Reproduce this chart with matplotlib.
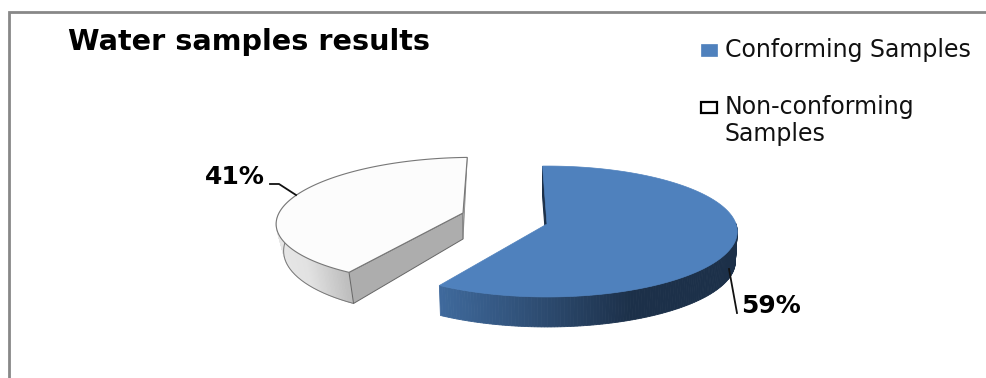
from matplotlib import pyplot as plt
from matplotlib.patches import Polygon, Rectangle
import numpy as np

categories = ["Conforming Samples", "Non-conforming\nSamples"]
shares = [59, 41]
share_labels = ["59%", "41%"]


def hex_rgb(c):
    return np.array([int(c[i:i + 2], 16) / 255 for i in (1, 3, 5)])


def project(t, cx, cy, radius, squash, shear=0.0, persp=0.1145):
    # t in degrees clockwise from the back of the disc
    t = np.radians(t)
    s = 1 / (1 + persp * np.cos(t))
    dy = -squash * np.cos(t) * s
    return cx + radius * np.sin(t) * s - shear * dy, cy + dy


def draw_wall(ax, x, y, low_x, low_y, idx, stops):
    # rim wall made of thin quads, coloured by horizontal position
    xmin, xmax = x[idx].min(), x[idx].max()
    pos = np.array([s[0] for s in stops])
    cols = np.array([hex_rgb(s[1]) for s in stops])
    for i in idx[:-1]:
        f = (x[i] - xmin) / (xmax - xmin)
        c = [np.interp(f, pos, cols[:, k]) for k in range(3)]
        quad = [(x[i], y[i]), (x[i + 1], y[i + 1]), (low_x[i + 1], low_y[i + 1]), (low_x[i], low_y[i])]
        ax.add_patch(Polygon(quad, closed=True, facecolor=c, edgecolor=c, linewidth=0.6, zorder=2))


fig = plt.figure(figsize=(9.86, 3.78), dpi=100)
ax = fig.add_axes([0, 0, 1, 1])
ax.set_xlim(0, 986)
ax.set_ylim(378, 0)
ax.axis("off")

# chart frame, top and left sides
ax.plot([9, 9, 986], [378, 12, 12], color="#888888", linewidth=2, solid_joinstyle="miter", zorder=1)

# non-conforming slice, pulled away to the left
cx, cy = 463, 213
t_end = -2.0
t = np.linspace(t_end - shares[1] * 3.6 + 360, t_end + 360, 240)
x, y = project(t, cx, cy, 184, 62, shear=0.18)
lx = x + (cx - x) * 0.04
ly = y + 26 + 5 * (y - cy) / 58
idx = np.where(np.cos(np.radians(t)) < 0.35)[0]
draw_wall(ax, x, y, lx, ly, idx, [(0, "#e6e6e6"), (0.4, "#e2e2e2"), (1, "#bcbcbc")])
ax.plot(lx[idx], ly[idx], color="#777777", linewidth=0.7, zorder=3)
cut = [(x[0], y[0]), (cx, cy), (cx, cy + 26), (lx[0], ly[0])]
ax.add_patch(Polygon(cut, closed=True, facecolor="#adadad", edgecolor="#666666", linewidth=0.7, zorder=3))
sliver = [(x[-1], y[-1]), (cx, cy + 26), (cx, cy)]
ax.add_patch(Polygon(sliver, closed=True, facecolor="#c8c8c8", edgecolor="#888888", linewidth=0.6, zorder=3))
ax.add_patch(Polygon(list(zip(x, y)) + [(cx, cy)], closed=True, facecolor="#fcfcfc", edgecolor="#777777",
                     linewidth=0.8, zorder=4))

# conforming slice
cx, cy = 547, 224
t = np.linspace(-1.5, -1.5 + shares[0] * 3.6, 240)
x, y = project(t, cx, cy, 189, 64.6)
lx = x + (cx - x) * 0.01
ly = y + 30
inner = [(x[0], y[0]), (cx, cy), (cx, cy + 30), (x[0], y[0] + 30)]
ax.add_patch(Polygon(inner, closed=True, facecolor="#1c3049", edgecolor="#1c3049", linewidth=0.8, zorder=2))
idx = np.where(np.cos(np.radians(t)) < 0.03)[0]
draw_wall(ax, x, y, lx, ly, idx, [(0, "#3f6a9d"), (0.33, "#2e4d73"), (0.65, "#1c3049"), (1, "#1c3049")])
ax.add_patch(Polygon(list(zip(x, y)) + [(cx, cy)], closed=True, facecolor="#4f81bd", edgecolor="#4f81bd",
                     linewidth=0.5, zorder=4))

# leader lines and value labels
ax.plot([270, 279, 296], [184, 184, 195], color="#111111", linewidth=1.3, zorder=5)
ax.plot([729, 737], [269, 313], color="#111111", linewidth=1.3, zorder=5)
ax.text(741, 306, share_labels[0], fontsize=18, fontweight="bold", family="DejaVu Sans",
        ha="left", va="center", color="black", zorder=6)
ax.text(205, 177, share_labels[1], fontsize=18, fontweight="bold", family="DejaVu Sans",
        ha="left", va="center", color="black", zorder=6)

# title
ax.text(68, 42, "Water samples results", fontsize=20.6, fontweight="bold", family="DejaVu Sans",
        ha="left", va="center", color="black")

# legend
ax.add_patch(Rectangle((701, 44), 16, 12, facecolor="#4f81bd", edgecolor="#4f81bd", linewidth=0.5))
ax.add_patch(Rectangle((701, 102), 16, 11, facecolor="white", edgecolor="black", linewidth=1.6))
first, second = categories[1].split("\n")
ax.text(725, 50, categories[0], fontsize=17, family="DejaVu Sans", ha="left", va="center", color="#111111")
ax.text(725, 107, first, fontsize=17, family="DejaVu Sans", ha="left", va="center", color="#111111")
ax.text(725, 134, second, fontsize=17, family="DejaVu Sans", ha="left", va="center", color="#111111")

fig.savefig("out.png", dpi=100)
